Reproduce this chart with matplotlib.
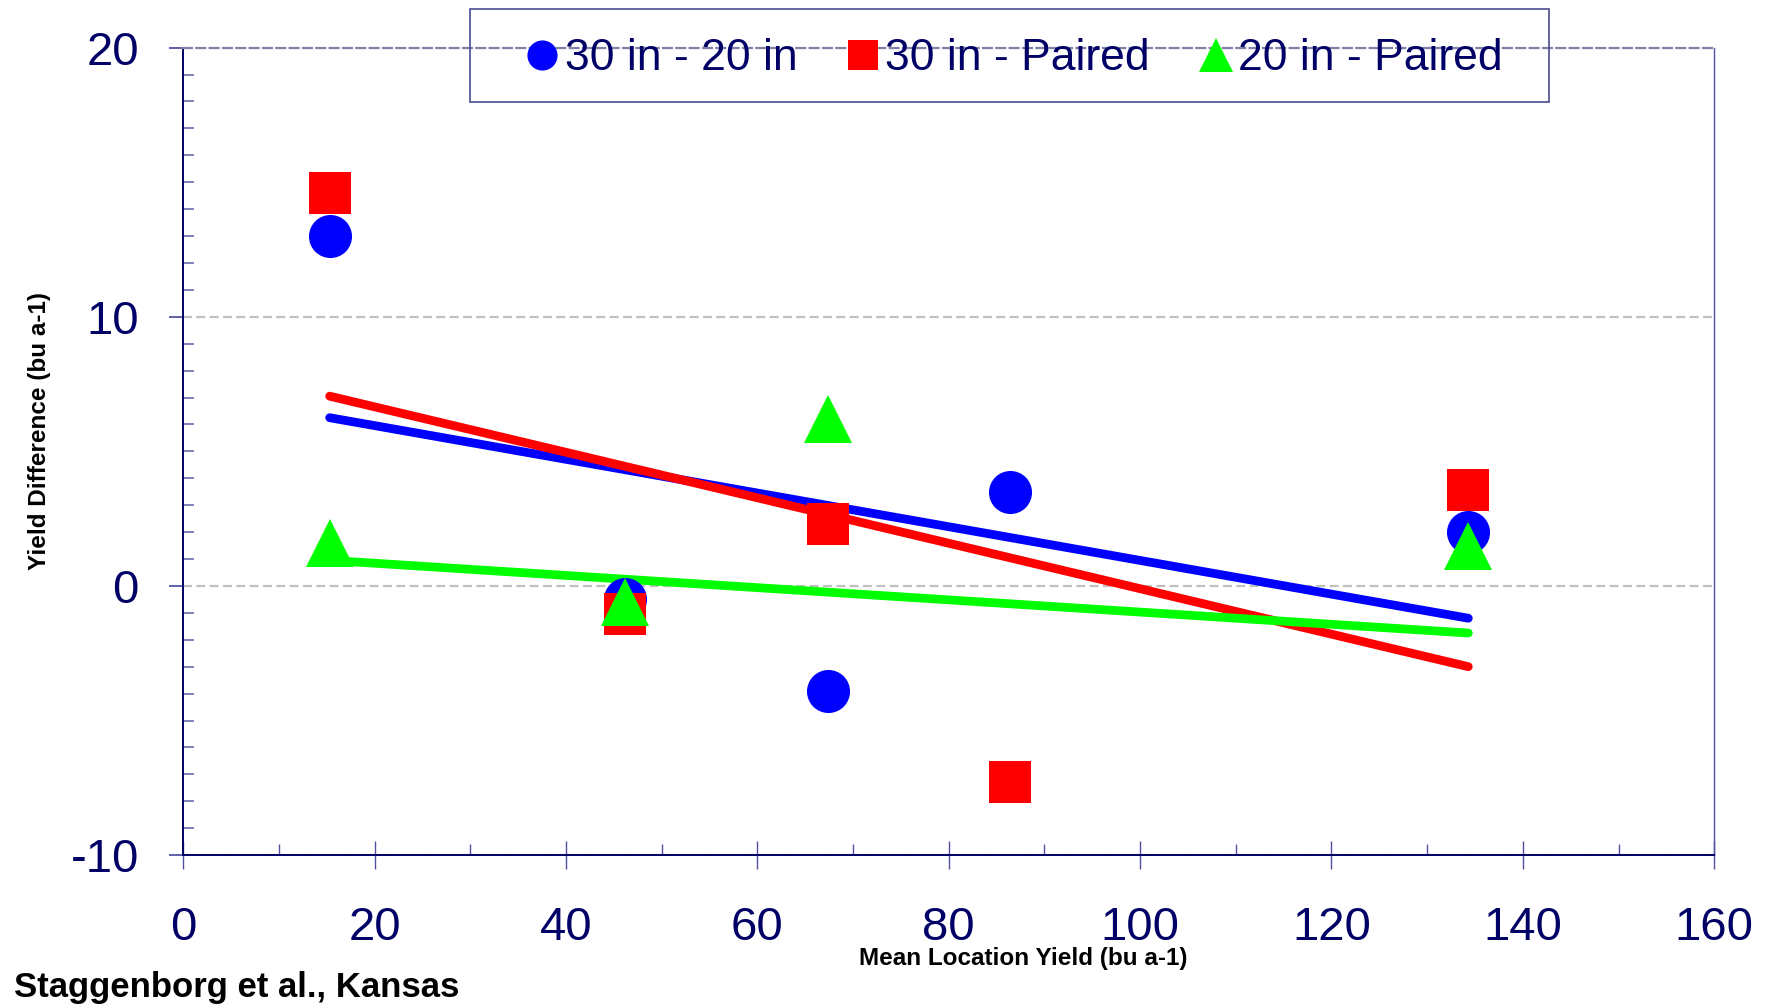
import matplotlib
matplotlib.use("Agg")
import matplotlib.pyplot as plt
from matplotlib.patches import Rectangle
from matplotlib.ticker import MultipleLocator

plt.rcParams['font.family'] = ['Liberation Sans', 'DejaVu Sans']
plt.rcParams['axes.unicode_minus'] = False

# mean location yield (bu a-1)
loc_yield = [15.3, 46.2, 67.4, 86.4, 134.3]
# yield differences (bu a-1)
diff_30_20 = [13.0, -0.5, -3.9, 3.5, 2.0]
diff_30_paired = [14.6, -1.05, 2.3, -7.3, 3.55]
# no 20 in - paired value shown at 86 bu
yield_20p = [15.3, 46.2, 67.4, 134.3]
diff_20_paired = [1.6, -0.6, 6.2, 1.5]

# trend line ends
trend_x = [15.3, 134.3]
trend_30_20 = [6.25, -1.2]
trend_30_paired = [7.05, -3.0]
trend_20_paired = [0.95, -1.75]

navy = '#000066'
blue, red, green = '#0000ff', '#ff0000', '#00ff00'

fig = plt.figure(figsize=(17.74, 10.06), dpi=100)
ax = fig.add_axes([0.1033, 0.150, 0.863, 0.8027])

# trend lines first, markers on top
ax.plot(trend_x, trend_30_20, color=blue, lw=6.3, solid_capstyle='round', zorder=3)
ax.plot(trend_x, trend_30_paired, color=red, lw=6.3, solid_capstyle='round', zorder=3)
ax.plot(trend_x, trend_20_paired, color=green, lw=6.3, solid_capstyle='round', zorder=3)

ax.plot(loc_yield, diff_30_20, 'o', color=blue, ms=31, mew=0, zorder=4, label='30 in - 20 in')
ax.plot(loc_yield, diff_30_paired, 's', color=red, ms=30, mew=0, zorder=4, label='30 in - Paired')
ax.plot(yield_20p, diff_20_paired, '^', color=green, ms=35, mew=0, zorder=4, label='20 in - Paired')

ax.set_xlim(0, 160)
ax.set_ylim(-10, 20)
ax.xaxis.set_major_locator(MultipleLocator(20))
ax.xaxis.set_minor_locator(MultipleLocator(10))
ax.yaxis.set_major_locator(MultipleLocator(10))
ax.yaxis.set_minor_locator(MultipleLocator(1))

ax.grid(axis='y', which='major', color='#c0c0c0', ls=(0, (4, 2)), lw=1.6, zorder=1)
ax.set_axisbelow(True)

for s in ['left', 'bottom']:
    ax.spines[s].set_color(navy)
    ax.spines[s].set_linewidth(1.4)
ax.spines['right'].set_color('#5050a0')
ax.spines['right'].set_linewidth(1.0)
ax.spines['top'].set_color('#8080a8')
ax.spines['top'].set_linestyle((0, (4, 2)))
ax.spines['top'].set_linewidth(1.6)

ax.tick_params(axis='x', which='major', direction='inout', length=20, width=1.0,
               color='#5050a0', pad=27, labelsize=34, labelcolor=navy)
ax.tick_params(axis='x', which='minor', direction='in', length=8, width=1.0, color='#5050a0')
ax.tick_params(axis='y', which='major', direction='out', length=10, width=1.4,
               color='#6060a8', pad=22, labelsize=34, labelcolor=navy)
ax.tick_params(axis='y', which='minor', direction='in', length=8, width=1.4, color='#8080b8')

ax.set_xticks([0, 20, 40, 60, 80, 100, 120, 140, 160])
ax.set_yticks([-10, 0, 10, 20])

leg = ax.legend(loc='center', bbox_to_anchor=(0.5726, 0.9415), bbox_transform=fig.transFigure,
                ncol=3, frameon=False, fontsize=32, markerscale=0.7, handlelength=0.6,
                handletextpad=0.2, columnspacing=1.18, borderpad=0, borderaxespad=0)
for t in leg.get_texts():
    t.set_color(navy)

fig.patches.append(Rectangle((0.265, 0.8986), 0.608, 0.0924, transform=fig.transFigure,
                             fill=False, edgecolor='#4a4a90', lw=1.2))

fig.text(0.0225, 0.5716, 'Yield Difference (bu a-1)', rotation=90, ha='center', va='center',
         fontsize=17.5, fontweight='bold', color='black')
fig.text(0.5766, 0.0405, 'Mean Location Yield (bu a-1)', ha='center', va='baseline',
         fontsize=17.5, fontweight='bold', color='black')
fig.text(0.0079, 0.0185, 'Staggenborg et al., Kansas', ha='left', va='center',
         fontsize=25, fontweight='bold', color='black')

fig.savefig('out.png', dpi=100)
